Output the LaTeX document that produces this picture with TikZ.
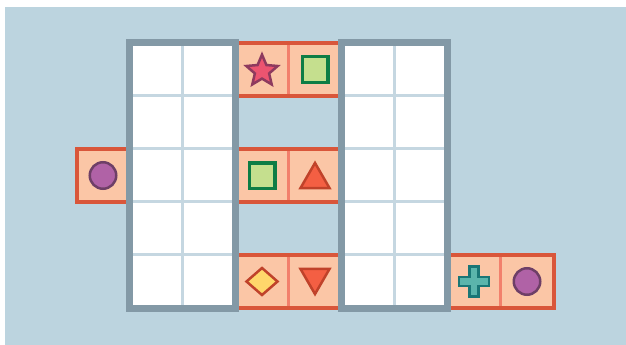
\documentclass[tikz,border=0pt]{standalone}
\usepackage{tikz}
\usetikzlibrary{shapes,positioning,calc}

\definecolor{sea}{HTML}{BCD4DF}
\definecolor{framegray}{HTML}{8399A6}
\definecolor{gridblue}{HTML}{C5D7E1}
\definecolor{tilefill}{HTML}{FBC6A6}
\definecolor{tileedge}{HTML}{D9563A}
\definecolor{divline}{HTML}{F2806C}
\definecolor{starfill}{HTML}{EC5470}
\definecolor{staredge}{HTML}{8E3A5E}
\definecolor{sqfill}{HTML}{C5DF8E}
\definecolor{sqedge}{HTML}{0E7D45}
\definecolor{trifill}{HTML}{F45F43}
\definecolor{triedge}{HTML}{C0422A}
\definecolor{diafill}{HTML}{FFD76B}
\definecolor{dotfill}{HTML}{B062A6}
\definecolor{dotedge}{HTML}{6E3F67}
\definecolor{plusfill}{HTML}{5BB5AC}
\definecolor{plusedge}{HTML}{1A7676}

\begin{document}
\begin{tikzpicture}[x=1pt, y=-1pt,
    board/.style={fill=white, minimum width=106pt, minimum height=265pt, inner sep=0pt, outer sep=0pt},
    frame/.style={draw=framegray, line width=7pt},
    gridline/.style={draw=gridblue, line width=3pt},
    pair/.style={draw=tileedge, fill=tilefill, line width=4pt, minimum width=106pt, minimum height=53pt, inner sep=0pt, outer sep=0pt},
    single/.style={pair, minimum width=53pt},
    divider/.style={draw=divline, line width=3pt},
    token/.style={line width=2.5pt, inner sep=0pt, outer sep=0pt},
    starmark/.style={token, star, star points=5, star point ratio=2.2, minimum size=33pt, fill=starfill, draw=staredge},
    sqmark/.style={token, rectangle, line width=3.5pt, minimum size=25.5pt, fill=sqfill, draw=sqedge},
    trimark/.style={token, regular polygon, regular polygon sides=3, minimum size=33.5pt, fill=trifill, draw=triedge},
    diamark/.style={token, diamond, minimum width=31pt, minimum height=27pt, fill=diafill, draw=triedge},
    dot/.style={token, circle, minimum size=26.5pt, fill=dotfill, draw=dotedge},
    plusmark/.style={line width=2.5pt, fill=plusfill, draw=plusedge}
]
    \useasboundingbox (0,0) rectangle (626,345);
    \fill[sea] (5,7) rectangle (626,345);

    % boards
    \node[board] (g1) at (182.5,175.5) {};
    \node[board, right=106pt of g1] (g2) {};

    % tiles
    \node[pair, anchor=north west] (t1) at (g1.north east) {};
    \node[pair, anchor=west] (t2) at (g1.east) {};
    \node[pair, anchor=south west] (t3) at (g1.south east) {};
    \node[pair, anchor=south west] (t4) at (g2.south east) {};
    \node[single, anchor=east] (s1) at (g1.west) {};
    \foreach \t in {t1,t2,t3,t4}
        \draw[divider] ([yshift=-2pt]\t.north) -- ([yshift=2pt]\t.south);

    % grid lines and frames
    \foreach \g in {g1,g2} {
        \draw[gridline] (\g.north) -- (\g.south);
        \foreach \i in {1,...,4}
            \draw[gridline] ($(\g.north west)!\i/5!(\g.south west)$) -- ($(\g.north east)!\i/5!(\g.south east)$);
        \draw[frame] (\g.north west) rectangle (\g.south east);
    }

    % tokens
    \node[starmark, yshift=-1.6pt] (st) at ([xshift=-26.5pt]t1.center) {};
    \node[sqmark] (sq1) at ([xshift=26.5pt]t1.center) {};
    \node[sqmark] (sq2) at ([xshift=-26.5pt]t2.center) {};
    \node[trimark, yshift=-4.2pt] (tri1) at ([xshift=26.5pt]t2.center) {};
    \node[diamark] (dia) at ([xshift=-26.5pt]t3.center) {};
    \node[trimark, shape border rotate=180, yshift=4.2pt] (tri2) at ([xshift=26.5pt]t3.center) {};
    \coordinate (pl) at ([xshift=-26.5pt]t4.center);
    \filldraw[plusmark, shift={(pl)}] (-4.5,-15) -- (4.5,-15) -- (4.5,-4.5) -- (15,-4.5) -- (15,4.5) -- (4.5,4.5)
        -- (4.5,15) -- (-4.5,15) -- (-4.5,4.5) -- (-15,4.5) -- (-15,-4.5) -- (-4.5,-4.5) -- cycle;
    \node[dot] (ci2) at ([xshift=26.5pt]t4.center) {};
    \node[dot] (ci1) at (s1.center) {};
\end{tikzpicture}
\end{document}
